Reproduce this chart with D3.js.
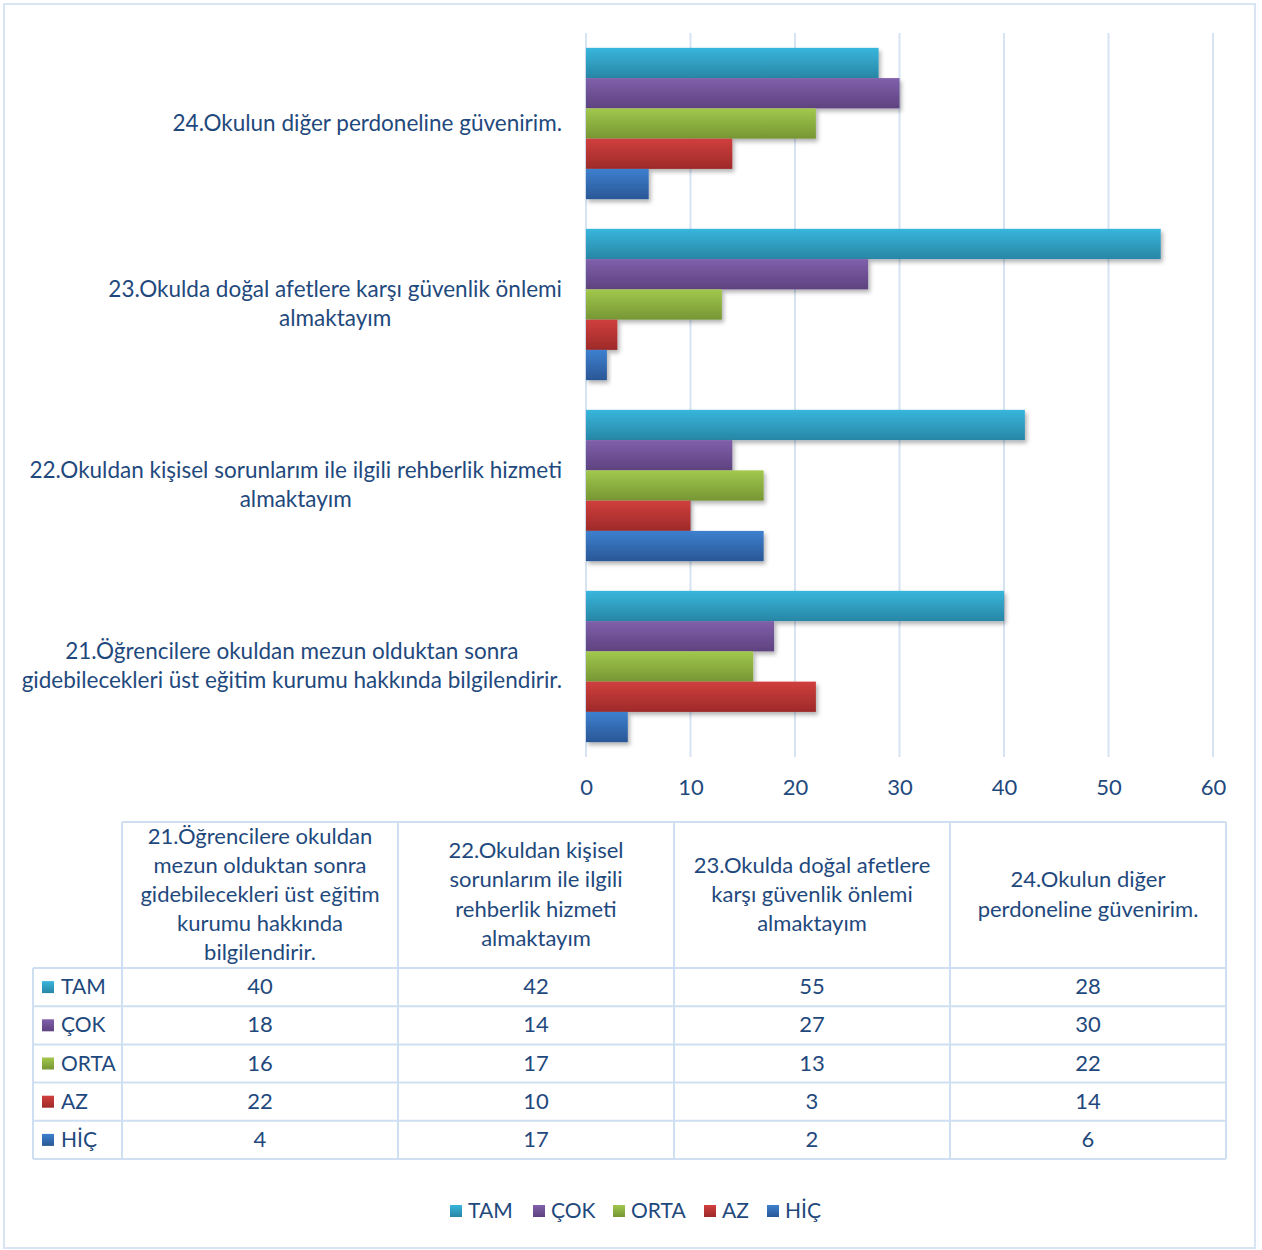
<!DOCTYPE html>
<html><head><meta charset="utf-8">
<script src="https://cdn.jsdelivr.net/npm/d3@7"></script>
<style>body{margin:0;background:#fff}svg{display:block}text{font-family:Lato,"Open Sans",sans-serif}</style>
</head><body>
<script>
const categories = [
  "21.Öğrencilere okuldan mezun olduktan sonra gidebilecekleri üst eğitim kurumu hakkında bilgilendirir.",
  "22.Okuldan kişisel sorunlarım ile ilgili rehberlik hizmeti almaktayım",
  "23.Okulda doğal afetlere karşı güvenlik önlemi almaktayım",
  "24.Okulun diğer perdoneline güvenirim."
];
const axisLabelLines = [
  ["21.Öğrencilere okuldan mezun olduktan sonra","gidebilecekleri üst eğitim kurumu hakkında bilgilendirir."],
  ["22.Okuldan kişisel sorunlarım ile ilgili rehberlik hizmeti","almaktayım"],
  ["23.Okulda doğal afetlere karşı güvenlik önlemi","almaktayım"],
  ["24.Okulun diğer perdoneline güvenirim."]
];
const headerLines = [
  ["21.Öğrencilere okuldan","mezun olduktan sonra","gidebilecekleri üst eğitim","kurumu hakkında","bilgilendirir."],
  ["22.Okuldan kişisel","sorunlarım ile ilgili","rehberlik hizmeti","almaktayım"],
  ["23.Okulda doğal afetlere","karşı güvenlik önlemi","almaktayım"],
  ["24.Okulun diğer","perdoneline güvenirim."]
];
const seriesNames = ["TAM","ÇOK","ORTA","AZ","HİÇ"];
const TAM  = [40,42,55,28];
const COK  = [18,14,27,30];
const ORTA = [16,17,13,22];
const AZ   = [22,10,3,14];
const HIC  = [4,17,2,6];
const seriesValues = [TAM,COK,ORTA,AZ,HIC];
const xTicks = [0,10,20,30,40,50,60];
const colors = [["#38b6dc","#2886a5"],["#8060ab","#5e427f"],["#a2c84d","#769634"],["#d03f3d","#9d2a29"],["#3d80cf","#2a5796"]];

const W=1262,H=1250;
const FS=22, FL=22.5, FR=21;
const svg=d3.select("body").append("svg").attr("width",W).attr("height",H);
const defs=svg.append("defs");
colors.forEach((c,i)=>{
  const g=defs.append("linearGradient").attr("id","g"+i).attr("x1",0).attr("y1",0).attr("x2",0).attr("y2",1);
  g.append("stop").attr("offset","0%").attr("stop-color",c[0]);
  g.append("stop").attr("offset","100%").attr("stop-color",c[1]);
});
const f=defs.append("filter").attr("id","sh").attr("x","-10%").attr("y","-20%").attr("width","130%").attr("height","160%");
f.append("feDropShadow").attr("dx",2).attr("dy",3).attr("stdDeviation",2.2).attr("flood-color","#000").attr("flood-opacity",0.3);

const txt="#1f497d", grid="#d6e3f3";
svg.append("rect").attr("x",4).attr("y",4).attr("width",1251).attr("height",1244).attr("fill","none").attr("stroke","#d9e4f2").attr("stroke-width",2);

const x=d3.scaleLinear().domain([0,60]).range([586,1213]);
const order=[3,2,1,0];
const y=d3.scaleBand().domain(order).range([33,757]).padding(0);
const yi=d3.scaleBand().domain(d3.range(5)).range([0,y.bandwidth()]).paddingInner(0).paddingOuter(0.49);

svg.append("g").selectAll("line").data(xTicks).join("line")
  .attr("x1",d=>x(d)).attr("x2",d=>x(d)).attr("y1",33).attr("y2",757)
  .attr("stroke",grid).attr("stroke-width",2);

const gb=svg.append("g");
seriesValues.forEach((vals,s)=>{
  gb.append("g").selectAll("rect").data(vals.map((v,c)=>({v,c}))).join("rect")
    .attr("x",x(0)).attr("y",d=>y(d.c)+yi(s)).attr("width",d=>x(d.v)-x(0)).attr("height",yi.bandwidth())
    .attr("fill","url(#g"+s+")").attr("filter","url(#sh)");
});

const xa=svg.append("g").attr("transform","translate(0,757)").call(d3.axisBottom(x).tickValues(xTicks).tickSize(0).tickPadding(22));
xa.select(".domain").remove();
xa.selectAll("text").attr("fill",txt).attr("font-size",FS).attr("font-family","Lato");

axisLabelLines.forEach((lines,c)=>{
  const cy=y(c)+y.bandwidth()/2;
  const lh=29;
  const t=svg.append("text").attr("fill",txt).attr("font-size",FL).attr("text-anchor","middle");
  const widths=[];
  lines.forEach((l,i)=>{
    const ts=t.append("tspan").text(l);
    widths.push(ts.node().getComputedTextLength());
  });
  const mw=Math.max(...widths);
  const cx=562-mw/2;
  t.selectAll("tspan").attr("x",cx).attr("y",(d,i)=>cy+(i-(lines.length-1)/2)*lh+7);
});

const colX=[33,122,398,674,950,1226];
const rowY=[822,968,1006.2,1044.4,1082.6,1120.8,1159];
const tb=svg.append("g");
const bc="#cfdff2";
rowY.forEach((yy,i)=>{
  tb.append("line").attr("x1",i===0?122:33).attr("x2",1226).attr("y1",yy).attr("y2",yy).attr("stroke",bc).attr("stroke-width",2);
});
colX.forEach((xx,i)=>{
  tb.append("line").attr("x1",xx).attr("x2",xx).attr("y1",i===0?968:822).attr("y2",1159).attr("stroke",bc).attr("stroke-width",2);
});
headerLines.forEach((lines,c)=>{
  const cx=(colX[c+1]+colX[c+2])/2, cy=(822+968)/2;
  const t=tb.append("text").attr("fill",txt).attr("font-size",FS).attr("text-anchor","middle");
  lines.forEach((l,i)=>t.append("tspan").attr("x",cx).attr("y",cy+(i-(lines.length-1)/2)*29.2+7).text(l));
});
seriesNames.forEach((n,s)=>{
  const cy=(rowY[s+1]+rowY[s+2])/2;
  tb.append("rect").attr("x",42).attr("y",cy-6).attr("width",12).attr("height",12).attr("fill","url(#g"+s+")");
  tb.append("text").attr("x",61).attr("y",cy+7).attr("fill",txt).attr("font-size",FR).text(n);
  seriesValues[s].forEach((v,c)=>{
    tb.append("text").attr("x",(colX[c+1]+colX[c+2])/2).attr("y",cy+7).attr("fill",txt).attr("font-size",FS).attr("text-anchor","middle").text(v);
  });
});

const legX=[450,533,613,704,767];
const lg=svg.append("g");
seriesNames.forEach((n,s)=>{
  lg.append("rect").attr("x",legX[s]).attr("y",1205).attr("width",12).attr("height",12).attr("fill","url(#g"+s+")");
  lg.append("text").attr("x",legX[s]+18).attr("y",1218).attr("fill",txt).attr("font-size",FR).text(n);
});
</script>
</body></html>
